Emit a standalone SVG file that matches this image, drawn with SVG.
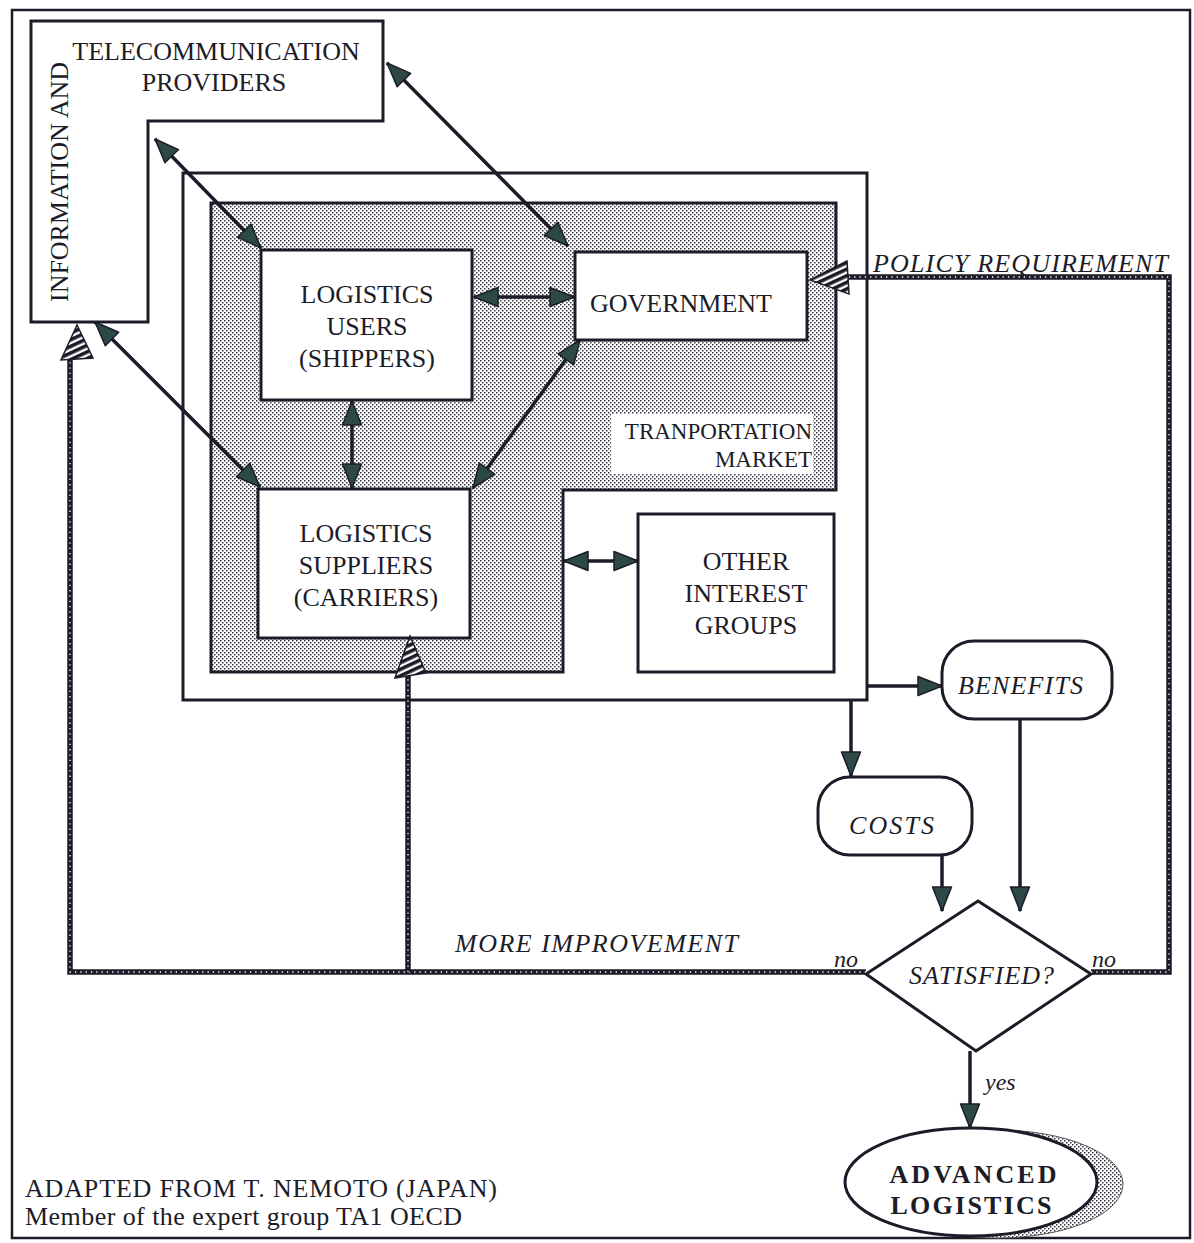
<svg xmlns="http://www.w3.org/2000/svg" width="1194" height="1243" viewBox="0 0 1194 1243">
<style>
.ln{fill:none;stroke:#1c1c28;stroke-width:3}
.box{fill:#fff;stroke:#1c1c28;stroke-width:3}
.t{font-family:"Liberation Serif","Times New Roman",serif;font-size:26px;fill:#1c1c28;text-anchor:middle}
.it{font-family:"Liberation Serif","Times New Roman",serif;font-style:italic;font-size:26px;fill:#1c1c28}
.ar{fill:none;stroke:#1c1c28;stroke-width:3.5;marker-end:url(#ah)}
.ar2{fill:none;stroke:#1c1c28;stroke-width:3.5;marker-start:url(#ah);marker-end:url(#ah)}
.hb{fill:none;stroke:#1c1c28;stroke-width:5.5}
.hf{fill:none;stroke:#fff;stroke-width:1.3;stroke-dasharray:1.3 4}
.hh{fill:url(#stripes);stroke:#1c1c28;stroke-width:1.5}
</style>
<defs>
<pattern id="dots" width="4" height="4" patternUnits="userSpaceOnUse">
<rect width="4" height="4" fill="#fff"/>
<rect x="0" y="0" width="1.5" height="1.5" fill="#33333d"/>
<rect x="2" y="2" width="1.5" height="1.5" fill="#33333d"/>
</pattern>
<pattern id="stripes" width="6" height="6" patternUnits="userSpaceOnUse" patternTransform="rotate(-25)">
<rect width="6" height="6" fill="#fff"/>
<rect width="6" height="3.6" fill="#1c1c28"/>
</pattern>
<marker id="ah" viewBox="0 0 26 22" refX="25" refY="11" markerWidth="26" markerHeight="22" markerUnits="userSpaceOnUse" orient="auto-start-reverse">
<path d="M1,1.5 L25,11 L1,20.5 Z" fill="#2d4946" stroke="#1c1c28" stroke-width="1.5" stroke-linejoin="round"/>
</marker>
</defs>
<rect width="1194" height="1243" fill="#fff"/>
<rect x="12" y="10" width="1178" height="1228" fill="none" stroke="#1c1c28" stroke-width="2.5"/>

<g id="info-providers">
<path class="box" d="M31,21 H383 V121 H148 V322 H31 Z"/>
<text class="t" x="216" y="60">TELECOMMUNICATION</text>
<text class="t" x="214" y="91">PROVIDERS</text>
<text class="t" transform="translate(68,182) rotate(-90)" textLength="240" lengthAdjust="spacingAndGlyphs">INFORMATION AND</text>
</g>

<g id="transportation-system">
<rect class="box" x="183" y="173" width="684" height="527"/>
</g>

<g id="transportation-market">
<path d="M211,203 H836 V490 H563 V672 H211 Z" fill="url(#dots)" stroke="#1c1c28" stroke-width="3"/>
<rect x="611" y="414" width="202" height="60" fill="#fff"/>
<text class="t" x="812" y="439" style="text-anchor:end;font-size:23px">TRANPORTATION</text>
<text class="t" x="812" y="467" style="text-anchor:end;font-size:23px">MARKET</text>
</g>

<g id="logistics-users">
<rect class="box" x="261" y="250" width="211" height="150"/>
<text class="t" x="367" y="303">LOGISTICS</text>
<text class="t" x="367" y="335">USERS</text>
<text class="t" x="367" y="367">(SHIPPERS)</text>
</g>

<g id="government">
<rect class="box" x="575" y="252" width="232" height="88"/>
<text class="t" x="681" y="312">GOVERNMENT</text>
</g>

<g id="logistics-suppliers">
<rect class="box" x="258" y="489" width="212" height="149"/>
<text class="t" x="366" y="542">LOGISTICS</text>
<text class="t" x="366" y="574">SUPPLIERS</text>
<text class="t" x="366" y="606">(CARRIERS)</text>
</g>

<g id="other-interest-groups">
<rect class="box" x="638" y="514" width="196" height="158"/>
<text class="t" x="746" y="570">OTHER</text>
<text class="t" x="746" y="602">INTEREST</text>
<text class="t" x="746" y="634">GROUPS</text>
</g>

<g id="benefits">
<rect class="box" x="942" y="641" width="170" height="78" rx="32"/>
<text class="it" x="958" y="694" textLength="125">BENEFITS</text>
</g>

<g id="costs">
<rect class="box" x="818" y="777" width="154" height="78" rx="32"/>
<text class="it" x="849" y="834" textLength="85">COSTS</text>
</g>

<g id="satisfied">
<polygon class="box" points="978,901 1091,974 976,1051 866,974"/>
<text class="it" x="909" y="984" textLength="145">SATISFIED?</text>
</g>

<g id="advanced-logistics">
<ellipse cx="997" cy="1184" rx="126" ry="54" fill="url(#dots)" stroke="#555" stroke-width="1"/>
<ellipse cx="971" cy="1182" rx="126" ry="54" fill="#fff" stroke="#1c1c28" stroke-width="3"/>
<text class="t" x="973" y="1183" style="font-weight:bold" textLength="167">ADVANCED</text>
<text class="t" x="971" y="1214" style="font-weight:bold" textLength="161">LOGISTICS</text>
</g>

<g id="connectors">
<line class="ar2" x1="155" y1="139" x2="261" y2="248"/>
<line class="ar2" x1="387" y1="63" x2="568" y2="246"/>
<line class="ar2" x1="474" y1="297" x2="574" y2="297"/>
<line class="ar2" x1="352" y1="401" x2="352" y2="488"/>
<line class="ar2" x1="580" y1="340" x2="473" y2="488"/>
<line class="ar2" x1="95" y1="322" x2="260" y2="487"/>
<line class="ar2" x1="564" y1="561" x2="638" y2="561"/>
<line class="ar" x1="867" y1="686" x2="942" y2="686"/>
<line class="ar" x1="851" y1="700" x2="851" y2="776"/>
<line class="ar" x1="942" y1="855" x2="942" y2="911"/>
<line class="ar" x1="1020" y1="719" x2="1020" y2="911"/>
<line class="ar" x1="970" y1="1051" x2="970" y2="1128"/>
<path class="hb" d="M866,972 H70 V356"/>
<path class="hf" d="M866,972 H70 V356"/>
<path class="hb" d="M408,972 V674"/>
<path class="hf" d="M408,972 V674"/>
<path class="hb" d="M1091,972 H1169 V277 H846"/>
<path class="hf" d="M1091,972 H1169 V277 H846"/>
<polygon class="hh" points="77,325 93,358 61,360"/>
<polygon class="hh" points="410,636 426,673 395,678"/>
<polygon class="hh" points="810,280 847,261 849,294"/>
</g>

<g id="labels">
<text class="it" x="873" y="272" textLength="295">POLICY REQUIREMENT</text>
<text class="it" x="455" y="952" textLength="283">MORE IMPROVEMENT</text>
<text class="it" x="834" y="967" style="font-size:24px">no</text>
<text class="it" x="1092" y="967" style="font-size:24px">no</text>
<text class="it" x="985" y="1090" style="font-size:24px">yes</text>
<text class="t" x="25" y="1197" style="text-anchor:start" textLength="472">ADAPTED FROM T. NEMOTO (JAPAN)</text>
<text class="t" x="25" y="1225" style="text-anchor:start" textLength="437">Member of the expert group TA1 OECD</text>
</g>
</svg>
